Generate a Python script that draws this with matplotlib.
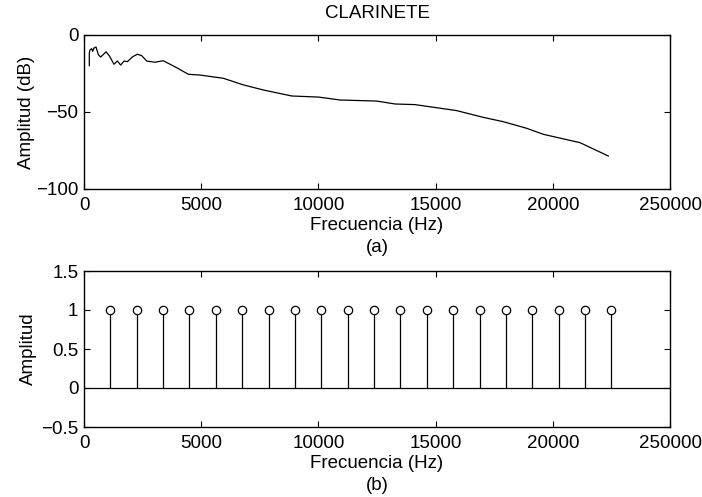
import matplotlib
matplotlib.use("Agg")
import matplotlib.pyplot as plt

plt.rcParams["font.family"] = ["Liberation Sans", "DejaVu Sans"]
plt.rcParams["font.size"] = 13.5

# Spectrum envelope of the clarinet (Hz, dB)
freq_env = [227, 227, 256, 328, 370, 427, 512, 610, 710, 823, 939, 1080, 1280, 1420,
            1565, 1706, 1850, 2077, 2275, 2460, 2675, 3030, 3380, 3950, 4450, 4950,
            5940, 6800, 7650, 8860, 10000, 10920, 12490, 13270, 14120, 15900, 17040,
            17890, 18890, 19600, 21160, 22370]
amp_db = [-19.9, -11.5, -9.7, -8.9, -10.6, -8.4, -7.8, -12.7, -14.3, -12.7, -10.9,
          -13.5, -19.0, -16.9, -19.5, -16.9, -17.3, -14.1, -12.5, -13.4, -16.9, -17.7,
          -16.7, -21.2, -25.5, -26.0, -28.1, -32.4, -35.7, -39.6, -40.3, -42.2, -42.9,
          -44.8, -45.2, -49.1, -53.5, -56.3, -60.6, -64.5, -69.9, -78.6]

# Harmonics (Hz) with unit amplitude
harm_freq = [1125, 2250, 3375, 4500, 5625, 6750, 7875, 9000, 10125, 11250,
             12375, 13500, 14625, 15750, 16875, 18000, 19125, 20250, 21375, 22500]
harm_amp = [1] * len(harm_freq)

xticks = [0, 5000, 10000, 15000, 20000, 25000]
xtick_labels = ["0", "5000", "10000", "15000", "20000", "250000"]

fig = plt.figure(figsize=(7.02, 4.97), dpi=100)

ax1 = fig.add_axes([84 / 702, 1 - 189 / 497, 586 / 702, 154 / 497])
ax1.plot(freq_env, amp_db, color="black", lw=0.9)
ax1.set_xlim(0, 25000)
ax1.set_ylim(-100, 0)
ax1.set_yticks([-100, -50, 0])
ax1.set_xticks(xticks)
ax1.set_xticklabels(xtick_labels)
ax1.set_ylabel("Amplitud (dB)", labelpad=1)
ax1.set_xlabel("Frecuencia (Hz)", labelpad=2)
ax1.set_title("CLARINETE", fontsize=13.5, pad=12)
fig.text(377 / 702, 1 - 247 / 497, "(a)", ha="center", va="center")

ax2 = fig.add_axes([84 / 702, 1 - 427 / 497, 586 / 702, 156 / 497])
ax2.axhline(0, color="black", lw=0.9)
ax2.vlines(harm_freq, 0, harm_amp, color="black", lw=0.9)
ax2.plot(harm_freq, harm_amp, "o", mfc="white", mec="black", ms=6, mew=0.9)
ax2.set_xlim(0, 25000)
ax2.set_ylim(-0.5, 1.5)
ax2.set_yticks([-0.5, 0, 0.5, 1, 1.5])
ax2.set_yticklabels(["\u22120.5", "0", "0.5", "1", "1.5"])
ax2.set_xticks(xticks)
ax2.set_xticklabels(xtick_labels)
ax2.set_ylabel("Amplitud", labelpad=3)
ax2.set_xlabel("Frecuencia (Hz)", labelpad=2)
fig.text(377 / 702, 1 - 485 / 497, "(b)", ha="center", va="center")

for ax in (ax1, ax2):
    ax.tick_params(direction="in", top=True, right=True, length=4, width=0.8)
    ax.tick_params(axis="x", pad=6)
    ax.tick_params(axis="y", pad=4)
    for sp in ax.spines.values():
        sp.set_linewidth(1.0)

fig.savefig("out.png", dpi=100)
